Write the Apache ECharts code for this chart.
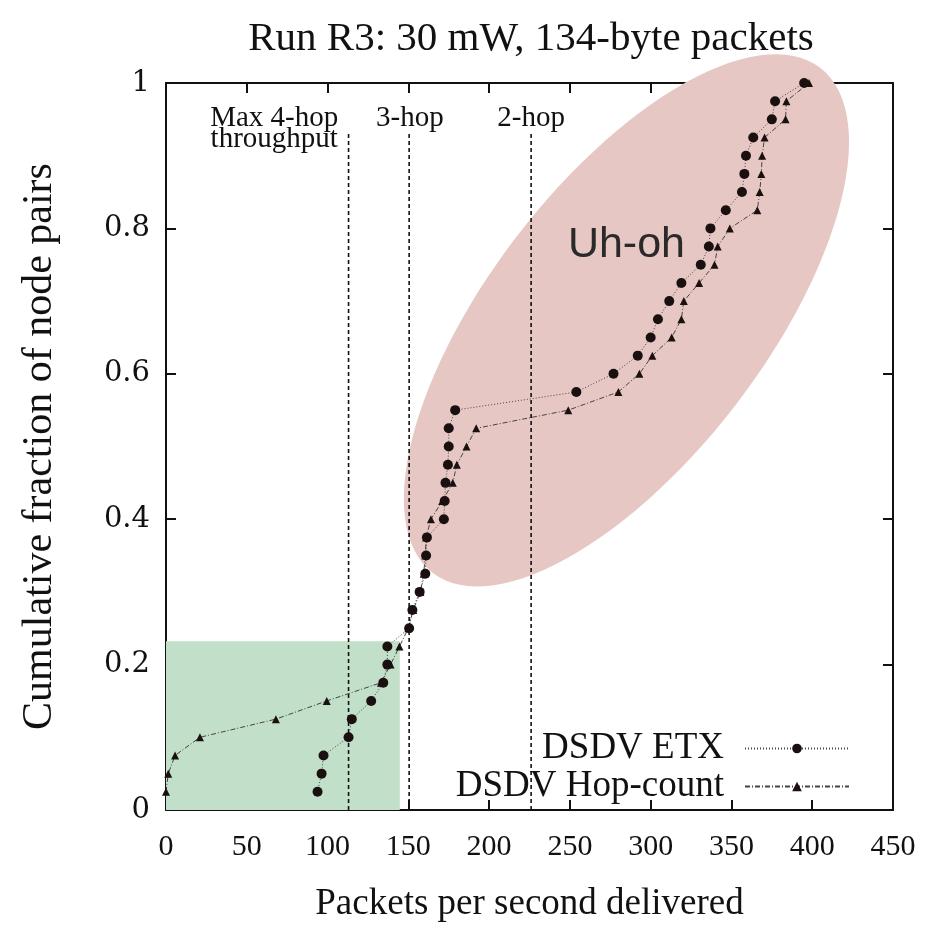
<!DOCTYPE html>
<html><head><meta charset="utf-8">
<script src="https://cdn.jsdelivr.net/npm/echarts@6/dist/echarts.min.js"></script>
<style>html,body{margin:0;padding:0;background:#fff}#c{width:927px;height:928px}</style>
</head><body><div id="c"></div>
<script>
// ---- data ----
const fractions = [0.025,0.05,0.075,0.1,0.125,0.15,0.175,0.2,0.225,0.25,0.275,0.3,0.325,0.35,0.375,0.4,0.425,0.45,0.475,0.5,0.525,0.55,0.575,0.6,0.625,0.65,0.675,0.7,0.725,0.75,0.775,0.8,0.825,0.85,0.875,0.9,0.925,0.95,0.975,1.0];
const etxRate = [93.8,96.3,97.5,113,115,127,134.5,137,137,150.5,152.5,157,160.5,161,161.5,172,172.5,173,174.5,175,175,179,254,277,292,300,304.5,311.5,319,331,336,337,346.5,356.5,358,359,363.5,375,377,395];
const hopRate = [0,1.4,5.6,21,68,99.5,133,139,144.5,150,153,157.5,159.5,160.5,161,164,171,177.5,180,186,192,249,280,293,301,313,319,320.5,330,339.5,341.5,349,366,367.5,368.5,369,370.5,383.5,384,398];
const xTicks = [0,50,100,150,200,250,300,350,400,450];
const yTicks = [0,0.2,0.4,0.6,0.8,1];
const refLines = [113,150.5,226];
const refLineTop = 0.93;
const refLabels = [
  {text:'Max 4-hop', x:67, y:0.951},
  {text:'throughput', x:67, y:0.923},
  {text:'3-hop', x:151, y:0.951},
  {text:'2-hop', x:226, y:0.951}
];
const uhOh = {text:'Uh-oh', x:285, y:0.777};
const ellipse = {cx:285, cy:0.6735, a:197, b:85.5, angleDeg:52.5};
const greenBox = {x0:0, y0:0, x1:144.7, y1:0.232};

const serif = '"Liberation Serif","Times New Roman",serif';
const chart = echarts.init(document.getElementById('c'));

function ellipseRender(params, api){
  const c = api.coord([api.value(0), api.value(1)]);
  const px = api.size([1,0])[0];
  const a = ellipse.a*px, b = ellipse.b*px, th = ellipse.angleDeg*Math.PI/180;
  const pts = [];
  for(let i=0;i<120;i++){
    const t = i/120*2*Math.PI;
    const ex = a*Math.cos(t), ey = b*Math.sin(t);
    pts.push([c[0] + ex*Math.cos(th) - ey*Math.sin(th), c[1] - (ex*Math.sin(th) + ey*Math.cos(th))]);
  }
  return {type:'polygon', shape:{points:pts}, style:{fill:'#e6c7c3'}, silent:true};
}
function boxRender(params, api){
  const p0 = api.coord([greenBox.x0, greenBox.y0]);
  const p1 = api.coord([greenBox.x1, greenBox.y1]);
  return {type:'rect', shape:{x:p0[0], y:p1[1], width:p1[0]-p0[0], height:p0[1]-p1[1]}, style:{fill:'#c2dfc9'}, silent:true};
}

function axisCommon(){
  return {
    min:0, axisLine:{show:true, onZero:false, lineStyle:{color:'#111', width:2}},
    axisTick:{show:true, inside:true, length:10, lineStyle:{color:'#111', width:2}},
    splitLine:{show:false}
  };
}

const series = [
  {type:'custom', name:'ellipse', renderItem:ellipseRender, data:[[ellipse.cx, ellipse.cy]], z:1, silent:true, clip:false},
  {type:'custom', name:'box', renderItem:boxRender, data:[[greenBox.x0, greenBox.y0]], z:1, silent:true},
];
refLines.forEach(x => series.push({
  type:'line', data:[[x,0],[x,refLineTop]], symbol:'none', z:2, silent:true,
  lineStyle:{color:'#111', width:1.6, type:[4,3]}
}));
series.push({
  type:'scatter', data:refLabels.map(d=>[d.x,d.y,d.text]), symbolSize:0, z:5, silent:true,
  itemStyle:{opacity:1},
  label:{show:true, position:'inside', formatter:p=>p.value[2], color:'#111', fontFamily:serif, fontSize:29}
});
series.push({
  type:'scatter', data:[[uhOh.x,uhOh.y,uhOh.text]], symbolSize:0, z:5, silent:true,
  itemStyle:{opacity:1},
  label:{show:true, position:'inside', formatter:p=>p.value[2], color:'#2a2a2a', fontFamily:'"Liberation Sans",Arial,sans-serif', fontSize:43}
});
series.push({
  type:'line', name:'DSDV ETX', data:etxRate.map((x,i)=>[x,fractions[i]]), z:4,
  symbol:'circle', symbolSize:10, showSymbol:true,
  itemStyle:{color:'#1a1010'}, lineStyle:{color:'#444', width:1, type:[1,2]}
});
series.push({
  type:'line', name:'DSDV Hop-count', data:hopRate.map((x,i)=>[x,fractions[i]]), z:4,
  symbol:'triangle', symbolSize:8, showSymbol:true,
  itemStyle:{color:'#1a1010'}, lineStyle:{color:'#444', width:1, type:[5,2,1,2]}
});

const legendCommon = {
  orient:'horizontal', align:'right', right:72, itemWidth:104, itemHeight:12, itemGap:10,
  textStyle:{fontFamily:serif, fontSize:37, color:'#111', padding:[0,16,0,0]}, selectedMode:false
};

chart.setOption({
  animation:false,
  backgroundColor:'#fff',
  title:{text:'Run R3: 30 mW, 134-byte packets', left:526, textAlign:'center', top:14,
    textStyle:{fontFamily:serif, fontSize:41, fontWeight:'normal', color:'#111'}},
  grid:{left:166, right:34, top:83, bottom:113},
  legend:[
    Object.assign({}, legendCommon, {data:['DSDV ETX'], top:725}),
    Object.assign({}, legendCommon, {data:['DSDV Hop-count'], top:763})
  ],
  xAxis:[
    Object.assign(axisCommon(), {type:'value', max:450, interval:50, position:'bottom',
      name:'Packets per second delivered', nameLocation:'middle', nameGap:76,
      nameTextStyle:{fontFamily:serif, fontSize:37, color:'#111'},
      axisLabel:{fontFamily:serif, fontSize:30, color:'#111', margin:22}}),
    Object.assign(axisCommon(), {type:'value', max:450, interval:50, position:'top', axisLabel:{show:false}})
  ],
  yAxis:[
    Object.assign(axisCommon(), {type:'value', max:1, interval:0.2, position:'left',
      name:'Cumulative fraction of node pairs', nameLocation:'middle', nameGap:105, nameRotate:90,
      nameTextStyle:{fontFamily:serif, fontSize:42, color:'#111'},
      axisLabel:{fontFamily:'"DejaVu Serif",serif', fontSize:29, color:'#111', margin:16}}),
    Object.assign(axisCommon(), {type:'value', max:1, interval:0.2, position:'right', axisLabel:{show:false}})
  ],
  series:series
});
</script></body></html>
